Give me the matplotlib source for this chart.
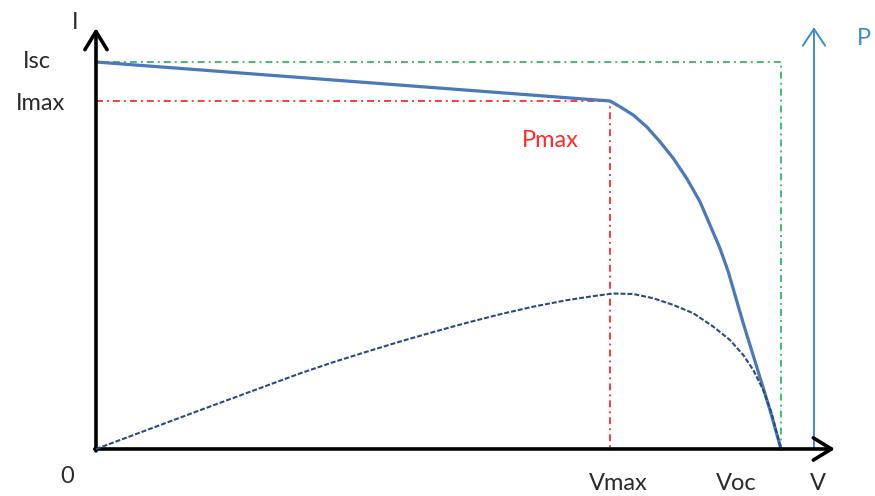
import matplotlib
matplotlib.use("Agg")
import matplotlib.pyplot as plt

plt.rcParams['font.family'] = ['Lato', 'DejaVu Sans']
plt.rcParams['lines.scale_dashes'] = False

# cell characteristic (V in volts, I in amps, P in watts)
V_OC = 22.0
I_SC = 8.0
V_MAX = 16.51
I_MAX = 7.19

iv_volts = [0.0, 16.508, 16.829, 17.256, 17.686, 18.114, 18.541, 18.971, 19.399,
            19.720, 20.040, 20.307, 20.789, 21.220, 21.647, 22.0]
iv_amps = [8.000, 7.194, 7.076, 6.904, 6.662, 6.352, 6.009, 5.596, 5.112,
           4.631, 4.149, 3.665, 2.598, 1.701, 0.806, 0.0]

p_volts = [0.0, 3.340, 6.552, 7.612, 8.694, 9.775, 10.833, 11.906, 12.979, 14.045,
           15.117, 15.972, 16.604, 17.256, 17.899, 18.541, 19.183, 19.826, 20.362,
           20.789, 21.110, 21.431, 21.701, 22.0]
p_watts = [0.0, 29.5, 57.5, 66.0, 74.0, 81.8, 89.0, 96.0, 102.5, 108.3,
           113.2, 116.3, 118.3, 117.9, 114.7, 109.6, 103.3, 93.1, 82.9,
           71.5, 60.1, 44.9, 27.2, 0.0]

fig = plt.figure(figsize=(8.75, 4.96), dpi=100)
ax = fig.add_axes([0, 0, 1, 1])
ax.set_xlim(-3.083, 25.02)
ax.set_ylim(-0.972, 9.282)
ax.axis('off')

ax2 = ax.twinx()
ax2.set_ylim(-35.76, 341.6)
ax2.axis('off')

green = '#33b864'
red = '#ff2b2b'
dashdot = (5.0, 2.9, 1.4, 2.9)

# guide lines
ax.plot([0, V_OC, V_OC], [I_SC, I_SC, 0], color=green, lw=1.3, dashes=dashdot)
ax.plot([0, V_MAX, V_MAX], [I_MAX, I_MAX, 0], color=red, lw=1.3, dashes=dashdot)

# curves
ax.plot(iv_volts, iv_amps, color='#4a78b8', lw=2.3, solid_capstyle='round',
        solid_joinstyle='round', zorder=4)
ax2.plot(p_volts, p_watts, color='#2c4a80', lw=1.5, dashes=(3.6, 1.4), zorder=4)

# axes with open arrow heads
arrow_k = dict(arrowstyle='->,head_length=1.3,head_width=0.8', color='black',
               lw=2.6, shrinkA=0, shrinkB=0, mutation_scale=10)
ax.annotate('', xy=(0, 8.70), xytext=(0, -0.04), arrowprops=arrow_k, zorder=5)
ax.annotate('', xy=(23.73, 0), xytext=(-0.04, 0), arrowprops=arrow_k, zorder=5)
arrow_b = dict(arrowstyle='->,head_length=1.2,head_width=0.8', color='#3b8ad2',
               lw=1.4, shrinkA=0, shrinkB=0, mutation_scale=10)
ax.annotate('', xy=(23.06, 8.72), xytext=(23.06, 0), arrowprops=arrow_b, zorder=3)

# labels
txt = '#2a2a2a'
fs = 17
ax.text(-0.674, 8.682, 'I', color=txt, fontsize=fs, ha='center', va='baseline')
ax.text(-1.895, 7.876, 'Isc', color=txt, fontsize=fs, ha='center', va='baseline')
ax.text(-1.798, 7.008, 'Imax', color=txt, fontsize=fs, ha='center', va='baseline')
ax.text(14.58, 6.243, 'Pmax', color=red, fontsize=fs, ha='center', va='baseline')
ax.text(24.666, 8.351, 'P', color='#3b8ad2', fontsize=fs, ha='center', va='baseline')
ax.text(-0.931, -0.703, '0', color=txt, fontsize=fs, ha='center', va='baseline')
ax.text(16.765, -0.848, 'Vmax', color=txt, fontsize=fs, ha='center', va='baseline')
ax.text(20.555, -0.848, 'Voc', color=txt, fontsize=fs, ha='center', va='baseline')
ax.text(23.19, -0.848, 'V', color=txt, fontsize=fs, ha='center', va='baseline')

fig.savefig('out.png', dpi=100)
